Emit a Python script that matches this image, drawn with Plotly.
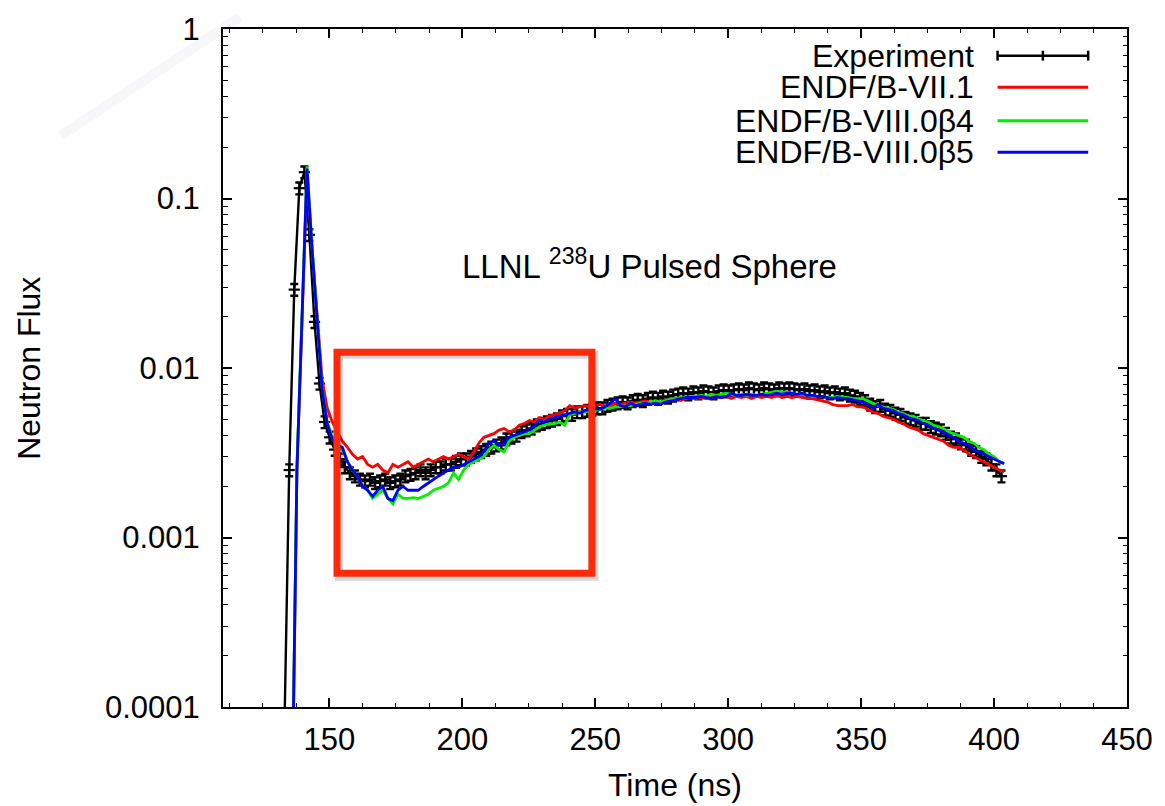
import plotly.graph_objects as go

# ---------------- data ----------------
t_exp = [133.0, 134.9, 136.8, 138.7, 140.6, 142.5, 144.4, 146.3, 148.2, 150.1,
         152.0, 153.9, 155.8, 157.7, 159.6, 161.5, 163.4, 165.3, 167.2, 169.1,
         171.0, 172.9, 174.8, 176.7, 178.6, 180.5, 182.4, 184.3, 186.2, 188.1,
         190.0, 191.9, 193.8, 195.7, 197.6, 199.5, 201.4, 203.3, 205.2, 207.1,
         209.0, 210.9, 212.8, 214.7, 216.6, 218.5, 220.4, 222.3, 224.2, 226.1,
         228.0, 229.9, 231.8, 233.7, 235.6, 237.5, 239.4, 241.3, 243.2, 245.1,
         247.0, 248.9, 250.8, 252.7, 254.6, 256.5, 258.4, 260.3, 262.2, 264.1,
         266.0, 267.9, 269.8, 271.7, 273.6, 275.5, 277.4, 279.3, 281.2, 283.1,
         285.0, 286.9, 288.8, 290.7, 292.6, 294.5, 296.4, 298.3, 300.2, 302.1,
         304.0, 305.9, 307.8, 309.7, 311.6, 313.5, 315.4, 317.3, 319.2, 321.1,
         323.0, 324.9, 326.8, 328.7, 330.6, 332.5, 334.4, 336.3, 338.2, 340.1,
         342.0, 343.9, 345.8, 347.7, 349.6, 351.5, 353.4, 355.3, 357.2, 359.1,
         361.0, 362.9, 364.8, 366.7, 368.6, 370.5, 372.4, 374.3, 376.2, 378.1,
         380.0, 381.9, 383.8, 385.7, 387.6, 389.5, 391.4, 393.3, 395.2, 397.1,
         399.0, 400.9, 402.8]

flux_exp = [6e-5, 0.0025, 0.029, 0.115, 0.143, 0.061, 0.0187, 0.0081, 0.0048, 0.0039,
            0.0033, 0.0029, 0.0026, 0.0024, 0.0023, 0.0022, 0.00215, 0.0022, 0.0021, 0.00215,
            0.0022, 0.0021, 0.00215, 0.0022, 0.0023, 0.00235, 0.0024, 0.0025, 0.0024, 0.0025,
            0.0026, 0.0026, 0.0027, 0.0027, 0.0028, 0.0029, 0.0029, 0.0030, 0.0031, 0.0032,
            0.0033, 0.0034, 0.0035, 0.0036, 0.0038, 0.0039, 0.0040, 0.0042, 0.0043, 0.0044,
            0.0046, 0.0047, 0.0048, 0.0049, 0.0050, 0.0052, 0.0053, 0.0053, 0.0055, 0.0055,
            0.0056, 0.0057, 0.0058, 0.0058, 0.0060, 0.0061, 0.0062, 0.0063, 0.0062, 0.0064,
            0.0065, 0.0064, 0.0066, 0.0067, 0.0066, 0.0068, 0.0067, 0.0069, 0.0070, 0.0071,
            0.0070, 0.0072, 0.0071, 0.0073, 0.0072, 0.0071, 0.0073, 0.0074, 0.0073, 0.0074,
            0.0075, 0.0074, 0.0076, 0.0075, 0.0074, 0.0076, 0.0075, 0.0074, 0.0076, 0.0075,
            0.0076, 0.0075, 0.0074, 0.0075, 0.0073, 0.0074, 0.0072, 0.0073, 0.0071, 0.0072,
            0.0070, 0.0071, 0.0069, 0.0068, 0.0066, 0.0064, 0.0061, 0.0059, 0.0060, 0.0057,
            0.0056, 0.0054, 0.0053, 0.0051, 0.0050, 0.0049, 0.0047, 0.0047, 0.0045, 0.0044,
            0.0043, 0.0041, 0.0039, 0.0038, 0.0036, 0.0035, 0.0033, 0.0032, 0.0030, 0.0029,
            0.0027, 0.0025, 0.0023]
err_pct_exp = 8  # relative size of the experimental error bars (%)

t_sim = [134.0, 135.9, 137.8, 139.7, 141.6, 143.5, 145.4, 147.3, 149.2, 151.1,
         153.0, 154.9, 156.8, 158.7, 160.6, 162.5, 164.4, 166.3, 168.2, 170.1,
         172.0, 173.9, 175.8, 177.7, 179.6, 181.5, 183.4, 185.3, 187.2, 189.1,
         191.0, 192.9, 194.8, 196.7, 198.6, 200.5, 202.4, 204.3, 206.2, 208.1,
         210.0, 211.9, 213.8, 215.7, 217.6, 219.5, 221.4, 223.3, 225.2, 227.1,
         229.0, 230.9, 232.8, 234.7, 236.6, 238.5, 240.4, 242.3, 244.2, 246.1,
         248.0, 249.9, 251.8, 253.7, 255.6, 257.5, 259.4, 261.3, 263.2, 265.1,
         267.0, 268.9, 270.8, 272.7, 274.6, 276.5, 278.4, 280.3, 282.2, 284.1,
         286.0, 287.9, 289.8, 291.7, 293.6, 295.5, 297.4, 299.3, 301.2, 303.1,
         305.0, 306.9, 308.8, 310.7, 312.6, 314.5, 316.4, 318.3, 320.2, 322.1,
         324.0, 325.9, 327.8, 329.7, 331.6, 333.5, 335.4, 337.3, 339.2, 341.1,
         343.0, 344.9, 346.8, 348.7, 350.6, 352.5, 354.4, 356.3, 358.2, 360.1,
         362.0, 363.9, 365.8, 367.7, 369.6, 371.5, 373.4, 375.3, 377.2, 379.1,
         381.0, 382.9, 384.8, 386.7, 388.6, 390.5, 392.4, 394.3, 396.2, 398.1,
         400.0, 401.9, 403.8]

flux_vii1 = [1e-5, 2e-5, 0.0025, 0.019, 0.14, 0.05, 0.020, 0.0085, 0.0058, 0.0048,
             0.0042, 0.0037, 0.0034, 0.0031, 0.0029, 0.0030, 0.0027, 0.0026, 0.0027, 0.0025,
             0.0024, 0.0027, 0.0026, 0.0027, 0.0028, 0.0026, 0.0027, 0.0028, 0.0029, 0.0028,
             0.0029, 0.0030, 0.0029, 0.0030, 0.0031, 0.0030, 0.0029, 0.0032, 0.0036, 0.0039,
             0.0040, 0.0041, 0.0043, 0.0044, 0.0042, 0.0043, 0.0046, 0.0047, 0.0049, 0.0048,
             0.0051, 0.0050, 0.0052, 0.0053, 0.0054, 0.0056, 0.0060, 0.0058, 0.0059, 0.0060,
             0.0059, 0.0060, 0.0061, 0.0059, 0.0060, 0.0062, 0.0061, 0.0062, 0.0063, 0.0062,
             0.0063, 0.0064, 0.0063, 0.0064, 0.0063, 0.0065, 0.0064, 0.0066, 0.0065, 0.0066,
             0.0067, 0.0066, 0.0067, 0.0066, 0.0067, 0.0068, 0.0067, 0.0068, 0.0066, 0.0068,
             0.0067, 0.0068, 0.0066, 0.0068, 0.0067, 0.0068, 0.0067, 0.0069, 0.0067, 0.0068,
             0.0067, 0.0068, 0.0067, 0.0066, 0.0066, 0.0065, 0.0064, 0.0063, 0.0061, 0.0060,
             0.0060, 0.0060, 0.0061, 0.0059, 0.0059, 0.0057, 0.0055, 0.0054, 0.0052, 0.0051,
             0.0050, 0.0048, 0.0047, 0.0045, 0.0044, 0.0043, 0.0041, 0.0040, 0.0039, 0.0038,
             0.0037, 0.0035, 0.0034, 0.0034, 0.0033, 0.0031, 0.0030, 0.0029, 0.0028, 0.0027,
             0.0026, 0.0025, 0.00245]

flux_viii0b4 = [1e-5, 2e-5, 0.0026, 0.020, 0.155, 0.052, 0.019, 0.0077, 0.0048, 0.0039,
                0.0035, 0.0033, 0.0028, 0.0025, 0.0023, 0.0020, 0.0019, 0.0017, 0.0018, 0.0019,
                0.0017, 0.00158, 0.0018, 0.0017, 0.0017, 0.00172, 0.0017, 0.00175, 0.0018, 0.0019,
                0.00196, 0.0020, 0.0021, 0.0024, 0.0022, 0.0025, 0.0027, 0.0028, 0.0029, 0.0030,
                0.0033, 0.0035, 0.0033, 0.0032, 0.0037, 0.0039, 0.0040, 0.0041, 0.0041, 0.0043,
                0.0045, 0.0046, 0.0047, 0.0047, 0.0048, 0.0046, 0.0053, 0.0054, 0.0055, 0.0055,
                0.0056, 0.0056, 0.0057, 0.0058, 0.0058, 0.0059, 0.0059, 0.0060, 0.0060, 0.0061,
                0.0062, 0.0062, 0.0063, 0.0064, 0.0063, 0.0064, 0.0066, 0.0066, 0.0067, 0.0067,
                0.0068, 0.0068, 0.0069, 0.0068, 0.0070, 0.0069, 0.0070, 0.0071, 0.0070, 0.0069,
                0.0070, 0.0069, 0.0070, 0.0069, 0.0070, 0.0071, 0.0072, 0.0073, 0.0072, 0.0072,
                0.0071, 0.0070, 0.0070, 0.0069, 0.0068, 0.0068, 0.0068, 0.0067, 0.0067, 0.0068,
                0.0067, 0.0067, 0.0066, 0.0066, 0.0066, 0.0064, 0.0062, 0.0060, 0.0059, 0.0058,
                0.0057, 0.0055, 0.0054, 0.0052, 0.0052, 0.0050, 0.0049, 0.0048, 0.0046, 0.0045,
                0.0044, 0.0042, 0.0041, 0.0040, 0.0039, 0.0037, 0.0036, 0.0034, 0.0033, 0.0031,
                0.0030, 0.0028, 0.00274]

flux_viii0b5 = [1e-5, 2e-5, 0.0025, 0.019, 0.15, 0.05, 0.018, 0.0075, 0.0047, 0.0038,
                0.0035, 0.0034, 0.0028, 0.0025, 0.0023, 0.0020, 0.0019, 0.00175, 0.0019, 0.0020,
                0.0017, 0.00165, 0.0019, 0.0020, 0.0019, 0.0019, 0.0019, 0.0020, 0.0021, 0.0022,
                0.0023, 0.0024, 0.0025, 0.0026, 0.0026, 0.0027, 0.0028, 0.0029, 0.0030, 0.0032,
                0.0036, 0.0037, 0.0035, 0.0036, 0.0039, 0.0040, 0.0041, 0.0042, 0.0043, 0.0046,
                0.0049, 0.0048, 0.0050, 0.0051, 0.0052, 0.0053, 0.0054, 0.0055, 0.0054, 0.0056,
                0.0057, 0.0058, 0.0057, 0.0059, 0.0062, 0.0066, 0.0060, 0.0059, 0.0062, 0.0060,
                0.0061, 0.0062, 0.0061, 0.0062, 0.0061, 0.0063, 0.0064, 0.0065, 0.0066, 0.0067,
                0.0067, 0.0067, 0.0068, 0.0067, 0.0066, 0.0068, 0.0067, 0.0068, 0.0071, 0.0069,
                0.0069, 0.0070, 0.0069, 0.0069, 0.0070, 0.0069, 0.0070, 0.0071, 0.0070, 0.0071,
                0.0071, 0.0070, 0.0071, 0.0069, 0.0069, 0.0068, 0.0068, 0.0067, 0.0066, 0.0067,
                0.0066, 0.0066, 0.0065, 0.0064, 0.0063, 0.0061, 0.0058, 0.0061, 0.0058, 0.0057,
                0.0056, 0.0054, 0.0053, 0.0051, 0.0050, 0.0049, 0.0047, 0.0046, 0.0044, 0.0043,
                0.0042, 0.0040, 0.0039, 0.0037, 0.0036, 0.0035, 0.0033, 0.0032, 0.0031, 0.0030,
                0.0029, 0.0028, 0.00272]

series_names = ["Experiment", "ENDF/B-VII.1", "ENDF/B-VIII.0\u03b24", "ENDF/B-VIII.0\u03b25"]
x_ticks = [150, 200, 250, 300, 350, 400, 450]
y_tick_vals = [0.0001, 0.001, 0.01, 0.1, 1]
y_tick_text = ["0.0001", "0.001", "0.01", "0.1", "1"]
x_range = [110, 450]
y_range_log = [-4, 0]
title_text = "LLNL <sup>238</sup>U Pulsed Sphere"

# ---------------- styling ----------------
FONT = "Liberation Sans, Arial, Helvetica, sans-serif"
FS_TICK = 31
FS_TEXT = 32
sim_colors = ["#ff0000", "#00f000", "#0000ff"]

fig = go.Figure()

fig.add_trace(go.Scatter(
    x=t_exp, y=flux_exp, mode="lines+markers", name=series_names[0],
    line=dict(color="black", width=2.4),
    marker=dict(symbol="line-ew", size=8, color="black", line=dict(color="black", width=2.2)),
    error_y=dict(type="percent", value=err_pct_exp, color="black", thickness=2.4, width=4),
    showlegend=False,
))
for name, ys, col in zip(series_names[1:], [flux_vii1, flux_viii0b4, flux_viii0b5], sim_colors):
    fig.add_trace(go.Scatter(
        x=t_sim, y=ys, mode="lines", name=name,
        line=dict(color=col, width=2.8), showlegend=False,
    ))

# plot area in pixels (for paper-coordinate helpers)
W, H = 1165, 806
L, R, T, B = 223, 1131, 20, 707


def px(xp):
    return (xp - L) / (R - L)


def py(yp):
    return 1 - (yp - T) / (B - T)


shapes = []
annotations = []

# faint streak in the top-left background
shapes.append(dict(type="line", xref="paper", yref="paper",
                   x0=px(60), y0=py(128), x1=px(240), y1=py(8),
                   line=dict(color="rgba(228,228,236,0.3)", width=10), layer="below"))

# highlighted region (drop shadow + red box)
shapes.append(dict(type="rect", xref="paper", yref="paper",
                   x0=px(339.5), x1=px(596), y0=py(350), y1=py(575),
                   line=dict(color="rgba(0,0,0,0.16)", width=8)))
shapes.append(dict(type="rect", xref="paper", yref="paper",
                   x0=px(337.5), x1=px(593.5), y0=py(347.5), y1=py(571.5),
                   line=dict(color="#ff2a0a", width=7)))

# legend (gnuplot-style: text right-aligned, sample to the right)
leg_text_x = px(979)
leg_x0, leg_x1 = px(1001), px(1092)
leg_rows = [47, 79, 113, 145]
cap = 5 / (B - T)
for i, (name, ypix) in enumerate(zip(series_names, leg_rows)):
    yy = py(ypix)
    annotations.append(dict(text=name, x=leg_text_x, y=yy, xref="paper", yref="paper",
                            xanchor="right", yanchor="middle", showarrow=False,
                            font=dict(family=FONT, size=FS_TEXT, color="black")))
    if i == 0:
        shapes.append(dict(type="line", xref="paper", yref="paper", x0=leg_x0, x1=leg_x1,
                           y0=yy, y1=yy, line=dict(color="black", width=2.5)))
        for xc in (leg_x0, (leg_x0 + leg_x1) / 2, leg_x1):
            shapes.append(dict(type="line", xref="paper", yref="paper", x0=xc, x1=xc,
                               y0=yy - cap, y1=yy + cap, line=dict(color="black", width=2.5)))
    else:
        shapes.append(dict(type="line", xref="paper", yref="paper", x0=leg_x0, x1=leg_x1,
                           y0=yy, y1=yy, line=dict(color=sim_colors[i - 1], width=3)))

# in-plot label
annotations.append(dict(text=title_text, x=px(651), y=py(258), xref="paper", yref="paper",
                        xanchor="center", yanchor="middle", showarrow=False,
                        font=dict(family=FONT, size=FS_TEXT + 1, color="black")))
# axis titles
annotations.append(dict(text="Time (ns)", x=0.5, y=py(786), xref="paper", yref="paper",
                        xanchor="center", yanchor="middle", showarrow=False,
                        font=dict(family=FONT, size=FS_TEXT, color="black")))
annotations.append(dict(text="Neutron Flux", x=px(28), y=0.5, xref="paper", yref="paper",
                        xanchor="center", yanchor="middle", showarrow=False, textangle=-90,
                        font=dict(family=FONT, size=FS_TEXT, color="black")))

fig.update_layout(
    width=W, height=H,
    margin=dict(l=L, r=W - R, t=T, b=H - B),
    paper_bgcolor="white", plot_bgcolor="white",
    font=dict(family=FONT, size=FS_TICK, color="black"),
    shapes=shapes, annotations=annotations, showlegend=False,
)
fig.update_xaxes(
    range=x_range, tickvals=x_ticks, ticks="inside", ticklen=9, tickwidth=1.5,
    tickcolor="black", showline=True, linecolor="black", linewidth=2, mirror="allticks",
    showgrid=False, zeroline=False, ticklabelstandoff=4,
    minor=dict(ticks="inside", ticklen=4, tickwidth=1.2, tickcolor="black",
               dtick=12.5, tick0=100, showgrid=False),
    tickfont=dict(family=FONT, size=FS_TICK, color="black"),
)
fig.update_yaxes(
    type="log", range=y_range_log, tickvals=y_tick_vals, ticktext=y_tick_text,
    ticks="inside", ticklen=9, tickwidth=1.5, tickcolor="black",
    showline=True, linecolor="black", linewidth=2, mirror="allticks",
    showgrid=False, zeroline=False, ticklabelstandoff=15,
    minor=dict(ticks="inside", ticklen=4.5, tickwidth=1.2, tickcolor="black",
               dtick="D1", showgrid=False),
    tickfont=dict(family=FONT, size=FS_TICK, color="black"),
)

fig.write_html("out.html", config={"displayModeBar": False},
               post_script="document.body.style.margin='0';document.body.style.padding='0';")
